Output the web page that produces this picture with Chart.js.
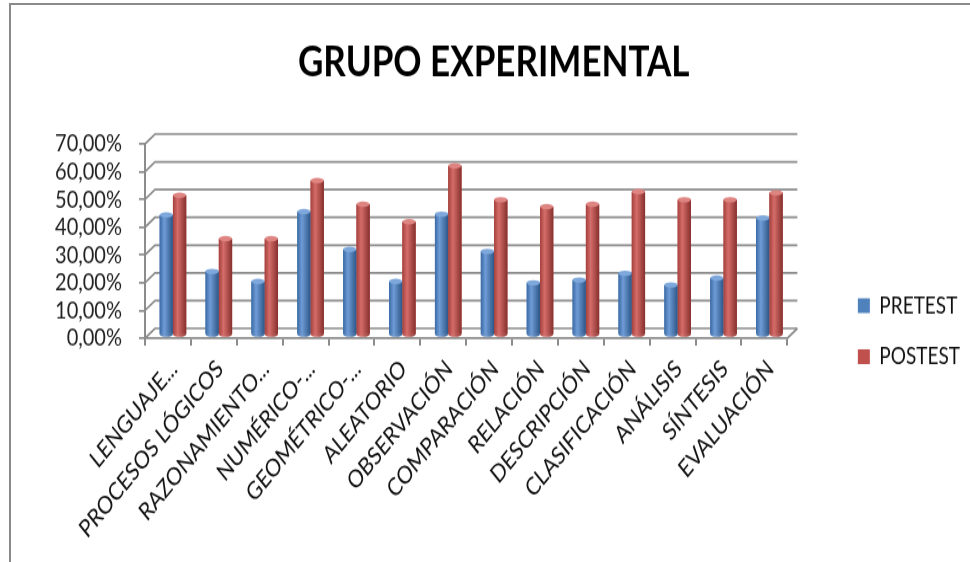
<!DOCTYPE html>
<html>
<head>
<meta charset="utf-8">
<script src="https://cdn.jsdelivr.net/npm/chart.js@4.4.1/dist/chart.umd.min.js"></script>
<style>
  html, body { margin: 0; padding: 0; background: #fff; overflow: hidden; }
  #marco {
    position: absolute; left: 9px; top: 3px; width: 1000px; height: 600px;
    border-top: 2px solid #8a8a8a; border-left: 2px solid #8a8a8a;
  }
  /* the original picture is stretched vertically, so the chart is too */
  #caja {
    position: absolute; left: 0; top: 0; width: 970px; height: 457px;
    transform: scale(1, 1.23); transform-origin: 0 0;
  }
</style>
</head>
<body>
<div id="marco"></div>
<div id="caja"><canvas id="grafico" width="970" height="457"></canvas></div>
<script>
const categorias = ['LENGUAJE...', 'PROCESOS LÓGICOS', 'RAZONAMIENTO...', 'NUMÉRICO-...', 'GEOMÉTRICO-...',
    'ALEATORIO', 'OBSERVACIÓN', 'COMPARACIÓN', 'RELACIÓN', 'DESCRIPCIÓN', 'CLASIFICACIÓN',
    'ANÁLISIS', 'SÍNTESIS', 'EVALUACIÓN'];
const pretest = [43.3, 23.0, 19.4, 44.5, 30.9, 19.4, 43.6, 30.2, 18.9, 19.9, 22.3, 18.1, 20.6, 42.2];
const postest = [50.4, 34.8, 34.8, 55.7, 47.2, 40.9, 61.0, 48.8, 46.3, 47.2, 51.7, 48.8, 48.8, 51.3];
const ticksY = [0, 10, 20, 30, 40, 50, 60, 70];

const FUENTE = 'Lato, "Open Sans", sans-serif';
const GRIS = '#8c8c8c';
const PX = 10, PY = 8; // depth of the 3D walls

// shading for the cylinders: [left edge, highlight, right edge, cap]
const tonos = [
    ['#3a69a3', '#6f9cd6', '#2c5687', '#7ea8dc'],
    ['#a3403d', '#d56d6a', '#86302d', '#de8582']
];

const fondo3d = {
    id: 'fondo3d',
    beforeDatasetsDraw(chart) {
        const ctx = chart.ctx;
        const a = chart.chartArea;
        const y = chart.scales.y;
        ctx.save();
        ctx.strokeStyle = GRIS;
        ctx.lineWidth = 1.7;
        ticksY.forEach(v => {
            const py = y.getPixelForValue(v);
            ctx.beginPath();
            ctx.moveTo(a.left, py);
            ctx.lineTo(a.left + PX, py - PY);
            ctx.lineTo(a.right + PX, py - PY);
            ctx.stroke();
        });
        ctx.beginPath();
        ctx.moveTo(a.right, a.bottom);
        ctx.lineTo(a.right + PX, a.bottom - PY);
        ctx.stroke();
        ctx.restore();

        ctx.save();
        ctx.translate(5, -2.5);
    },
    afterDatasetsDraw(chart) {
        const ctx = chart.ctx;
        chart.data.datasets.forEach((ds, i) => {
            const t = tonos[i];
            chart.getDatasetMeta(i).data.forEach(el => {
                const w = el.width;
                const x0 = el.x - w / 2;
                const g = ctx.createLinearGradient(x0, 0, x0 + w, 0);
                g.addColorStop(0, t[0]);
                g.addColorStop(0.35, t[1]);
                g.addColorStop(1, t[2]);
                ctx.fillStyle = g;
                ctx.fillRect(x0, el.y, w, el.base - el.y);
                ctx.beginPath();
                ctx.ellipse(el.x, el.base, w / 2, 2.2, 0, 0, Math.PI);
                ctx.fill();
                ctx.beginPath();
                ctx.ellipse(el.x, el.y, w / 2, 2.2, 0, 0, Math.PI * 2);
                ctx.fillStyle = t[3];
                ctx.fill();
            });
        });
        ctx.restore();
    }
};

new Chart(document.getElementById('grafico'), {
    type: 'bar',
    data: {
        labels: categorias,
        datasets: [{
            label: 'PRETEST',
            data: pretest,
            backgroundColor: '#4f81bd',
            borderWidth: 0
        }, {
            label: 'POSTEST',
            data: postest,
            backgroundColor: '#c0504d',
            borderWidth: 0
        }]
    },
    plugins: [fondo3d],
    options: {
        responsive: false,
        animation: false,
        layout: { padding: 0 },
        datasets: {
            bar: { categoryPercentage: 0.58, barPercentage: 1 }
        },
        scales: {
            x: {
                grid: { offset: true, drawOnChartArea: false, drawTicks: true, tickLength: 6, color: GRIS, lineWidth: 2 },
                border: { display: true, color: GRIS, width: 1.7 },
                ticks: {
                    minRotation: 45, maxRotation: 45, autoSkip: false,
                    labelOffset: 6, padding: 7,
                    color: '#111',
                    font: { family: FUENTE, size: 20 }
                },
                afterFit: s => { s.height = 182; }
            },
            y: {
                min: 0, max: 70,
                ticks: {
                    stepSize: 10, autoSkip: false, padding: 17, color: '#222',
                    font: { family: FUENTE, size: 20 },
                    callback: v => v.toFixed(2).replace('.', ',') + '%'
                },
                grid: { drawOnChartArea: false, drawTicks: true, tickLength: 6, color: GRIS, lineWidth: 1.7 },
                border: { display: true, color: GRIS, width: 2 },
                afterFit: s => { s.width = 145; }
            },
            margen: {
                position: 'right',
                display: true,
                grid: { display: false },
                border: { display: false },
                ticks: { display: false },
                afterFit: s => { s.width = 48; }
            }
        },
        plugins: {
            title: {
                display: true,
                text: '\u2002GRUPO EXPERIMENTAL',
                color: '#000',
                font: { family: FUENTE, size: 35, weight: 'bold', lineHeight: 1.2 },
                padding: { top: 30, bottom: 45 }
            },
            legend: {
                position: 'right',
                title: { display: true, text: ' ', padding: { top: 0, bottom: 60 }, font: { size: 18, lineHeight: 1.2 } },
                labels: {
                    boxWidth: 12, boxHeight: 12, padding: 22.5,
                    color: '#111',
                    font: { family: FUENTE, size: 19 }
                }
            },
            tooltip: { enabled: false }
        }
    }
});
</script>
</body>
</html>
